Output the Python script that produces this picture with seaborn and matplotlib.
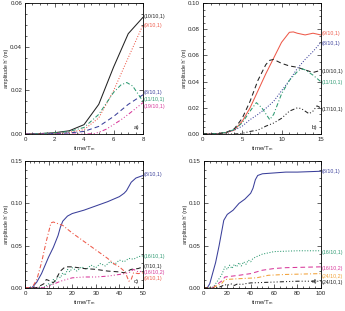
import matplotlib
matplotlib.use("Agg")
import matplotlib.pyplot as plt
import matplotlib.transforms as mtransforms
from matplotlib.ticker import MultipleLocator, FormatStrFormatter
import numpy as np
import pandas as pd
import seaborn as sns

# ---- panel a) ----
ta = [0, 1, 2, 3, 4, 5, 6, 7, 8]
a_10_10_1 = [0.0, 0.0002, 0.0006, 0.0015, 0.0043, 0.0136, 0.0306, 0.046, 0.0535]
a_9_10_1 = [0.0, 0.0001, 0.0003, 0.0008, 0.002, 0.0074, 0.0198, 0.035, 0.050]
a_8_10_1 = [0.0, 0.0001, 0.0002, 0.0005, 0.0012, 0.0035, 0.008, 0.0136, 0.018]
ta_g = [0, 1, 2, 3, 4, 5, 6, 6.5, 6.9, 7.3, 8]
a_11_10_1 = [0.0, 0.0002, 0.0005, 0.0012, 0.003, 0.009, 0.019, 0.0225, 0.0236, 0.022, 0.015]
ta_m = [0, 4, 4.7, 5, 5.5, 6, 6.5, 7, 7.5, 8]
a_19_10_1 = [0.0, 0.0, 0.0002, 0.0008, 0.0022, 0.0043, 0.0065, 0.009, 0.0117, 0.0144]

# ---- panel b) ----
tb = [0, 1, 2, 3, 4, 5, 6, 7, 8, 9, 10, 11, 11.5, 12, 13, 14, 15]
b_9_10_1 = [0.0, 0.0001, 0.0004, 0.0012, 0.003, 0.0097, 0.020, 0.033, 0.046, 0.058,
            0.070, 0.0777, 0.078, 0.077, 0.0757, 0.077, 0.0757]
tb_k = [0, 1, 2, 3, 4, 5, 6, 7, 8, 8.5, 9, 10, 11, 12, 13, 14, 15]
b_10_10_1 = [0.0, 0.0001, 0.0004, 0.0014, 0.004, 0.012, 0.025, 0.041, 0.053, 0.0563,
             0.057, 0.054, 0.052, 0.051, 0.049, 0.047, 0.0487]
tb_b = [0, 1, 2, 3, 4, 5, 6, 7, 8, 9, 10, 11, 12, 13, 14, 15]
b_8_10_1 = [0.0, 0.0001, 0.0004, 0.0012, 0.003, 0.006, 0.011, 0.015, 0.0196, 0.025,
            0.033, 0.041, 0.050, 0.057, 0.063, 0.070]
tb_g = [0, 1, 2, 3, 4, 5, 6, 6.8, 7.5, 8.5, 9, 10, 11, 12, 12.5, 13, 14, 15]
b_11_10_1 = [0.0, 0.0001, 0.0004, 0.0013, 0.0035, 0.0085, 0.0175, 0.024, 0.020, 0.011,
             0.015, 0.0306, 0.041, 0.0476, 0.050, 0.049, 0.045, 0.040]
tb_d = [0, 4, 5, 6, 7, 8, 9, 10, 11, 12, 12.5, 13, 13.5, 14, 14.5, 15]
b_17_10_1 = [0.0, 0.0, 0.0005, 0.002, 0.003, 0.006, 0.0084, 0.012, 0.0175, 0.020,
             0.0195, 0.0175, 0.0155, 0.0175, 0.0215, 0.020]

# ---- panel c) ----
tc_b = [0, 3, 5, 7, 10, 12, 14, 15, 16, 18, 20, 25, 30, 35, 40, 42, 43, 45, 47, 50]
c_8_10_1 = [0.0, 0.0005, 0.007, 0.017, 0.0366, 0.048, 0.062, 0.072, 0.079, 0.085,
            0.088, 0.092, 0.097, 0.102, 0.108, 0.112, 0.115, 0.125, 0.130, 0.133]
tc_r = [0, 3, 5, 7, 9, 11, 12, 14, 16, 20, 25, 30, 35, 38, 40, 42, 43, 44, 45, 46, 48, 50]
c_9_10_1 = [0.0, 0.0005, 0.010, 0.030, 0.055, 0.077, 0.078, 0.076, 0.074, 0.065,
            0.055, 0.045, 0.035, 0.028, 0.025, 0.020, 0.015, 0.008, 0.010, 0.018,
            0.017, 0.018]
tc_k = [0, 5, 8, 9, 10, 11, 12, 13, 15, 17, 20, 25, 30, 35, 40, 42, 45, 48, 50]
c_7_10_1 = [0.0, 0.0005, 0.005, 0.010, 0.009, 0.007, 0.006, 0.010, 0.020, 0.025,
            0.025, 0.023, 0.022, 0.020, 0.019, 0.018, 0.022, 0.023, 0.025]
tc_g = [0, 8, 10, 11, 12, 13, 14, 15, 16, 17, 18, 19, 20, 22, 24, 26, 28, 30, 32, 34,
        36, 38, 40, 42, 44, 46, 48, 50]
c_16_10_1 = [0.0, 0.0005, 0.005, 0.004, 0.010, 0.008, 0.014, 0.012, 0.018, 0.015,
             0.022, 0.019, 0.024, 0.020, 0.025, 0.022, 0.027, 0.024, 0.029, 0.026,
             0.031, 0.028, 0.033, 0.031, 0.035, 0.034, 0.037, 0.038]
tc_m = [0, 8, 10, 15, 20, 25, 30, 35, 40, 44, 46, 48, 50]
c_16_10_2 = [0.0, 0.0003, 0.002, 0.008, 0.012, 0.013, 0.013, 0.014, 0.016, 0.018,
             0.022, 0.019, 0.020]

# ---- panel d) ----
td_b = [0, 3, 5, 10, 13, 15, 17, 20, 25, 30, 35, 40, 42, 44, 46, 50, 60, 70, 80, 100]
d_8_10_1 = [0.0, 0.0005, 0.005, 0.030, 0.050, 0.065, 0.080, 0.087, 0.092, 0.100,
            0.105, 0.112, 0.118, 0.128, 0.133, 0.135, 0.136, 0.137, 0.137, 0.138]
td_g = [0, 8, 10, 15, 18, 20, 22, 24, 26, 28, 30, 32, 34, 36, 38, 40, 42, 45, 50, 60, 80, 100]
d_16_10_1 = [0.0, 0.001, 0.005, 0.015, 0.025, 0.022, 0.027, 0.023, 0.028, 0.025,
             0.030, 0.026, 0.031, 0.028, 0.033, 0.031, 0.035, 0.037, 0.040, 0.043,
             0.044, 0.044]
td_m = [0, 8, 10, 15, 18, 30, 40, 50, 60, 70, 100]
d_16_10_2 = [0.0, 0.0005, 0.003, 0.008, 0.013, 0.015, 0.017, 0.021, 0.023, 0.024, 0.025]
td_o = [0, 8, 10, 15, 18, 30, 45, 55, 70, 100]
d_24_10_2 = [0.0, 0.0003, 0.002, 0.005, 0.010, 0.011, 0.012, 0.015, 0.016, 0.017]
td_k = [0, 12, 15, 18, 20, 23, 26, 29, 32, 35, 40, 60, 80, 100]
d_24_10_1 = [0.0, 0.0003, 0.002, 0.004, 0.003, 0.005, 0.003, 0.005, 0.004, 0.005,
             0.006, 0.007, 0.008, 0.008]

BLACK = "#222222"
RED = "#ee5a4a"
BLUE = "#3a3f9a"
GREEN = "#2e9a72"
MAGENTA = "#d8389a"
ORANGE = "#f2a23a"

SOLID = "-"
DOT = (0, (1, 1.6))
DASH = (0, (4.5, 3))
DASHDOT = (0, (4, 2, 1, 2))
DASHDOT3 = (0, (4, 2, 1, 2, 1, 2, 1, 2))

panels = [
    dict(letter="a)", xlim=(0, 8), ylim=(0, 0.06), xmaj=2, xmin=0.5, ymaj=0.02, ymin=0.005,
         curves=[
             (ta, a_10_10_1, BLACK, SOLID, "(10/10,1)", 0.0538),
             (ta, a_9_10_1, RED, DOT, "(9/10,1)", 0.0499),
             (ta, a_8_10_1, BLUE, DASH, "(8/10,1)", 0.0190),
             (ta_g, a_11_10_1, GREEN, DASHDOT, "(11/10,1)", 0.0159),
             (ta_m, a_19_10_1, MAGENTA, DASHDOT3, "(19/10,1)", 0.0128),
         ]),
    dict(letter="b)", xlim=(0, 15), ylim=(0, 0.10), xmaj=5, xmin=1, ymaj=0.02, ymin=0.005,
         curves=[
             (tb, b_9_10_1, RED, SOLID, "(9/10,1)", 0.0767),
             (tb_b, b_8_10_1, BLUE, DOT, "(8/10,1)", 0.0690),
             (tb_k, b_10_10_1, BLACK, DASH, "(10/10,1)", 0.0480),
             (tb_g, b_11_10_1, GREEN, DASHDOT, "(11/10,1)", 0.0395),
             (tb_d, b_17_10_1, BLACK, DASHDOT3, "(17/10,1)", 0.0190),
         ]),
    dict(letter="c)", xlim=(0, 50), ylim=(0, 0.15), xmaj=10, xmin=2, ymaj=0.05, ymin=0.01,
         curves=[
             (tc_b, c_8_10_1, BLUE, SOLID, "(8/10,1)", 0.134),
             (tc_g, c_16_10_1, GREEN, DOT, "(16/10,1)", 0.0378),
             (tc_k, c_7_10_1, BLACK, DASH, "(7/10,1)", 0.0256),
             (tc_m, c_16_10_2, MAGENTA, DASHDOT3, "(16/10,2)", 0.0185),
             (tc_r, c_9_10_1, RED, DASHDOT, "(9/10,1)", 0.0114),
         ]),
    dict(letter="d)", xlim=(0, 100), ylim=(0, 0.15), xmaj=20, xmin=5, ymaj=0.05, ymin=0.01,
         curves=[
             (td_b, d_8_10_1, BLUE, SOLID, "(8/10,1)", 0.138),
             (td_g, d_16_10_1, GREEN, DOT, "(16/10,1)", 0.0417),
             (td_m, d_16_10_2, MAGENTA, DASH, "(16/10,2)", 0.0232),
             (td_o, d_24_10_2, ORANGE, DASHDOT, "(24/10,2)", 0.0138),
             (td_k, d_24_10_1, BLACK, DASHDOT3, "(24/10,1)", 0.0063),
         ]),
]

sns.set_style("ticks")
plt.rcParams["font.family"] = ["Liberation Sans", "DejaVu Sans"]
plt.rcParams["font.size"] = 4.2
plt.rcParams["mathtext.fontset"] = "custom"
plt.rcParams["mathtext.rm"] = "Liberation Sans"
plt.rcParams["mathtext.it"] = "Liberation Sans"

fig = plt.figure(figsize=(3.45, 3.11), dpi=100)
rects = [
    [0.0725, 0.569, 0.342, 0.421],
    [0.588, 0.569, 0.342, 0.421],
    [0.0725, 0.074, 0.342, 0.408],
    [0.591, 0.074, 0.339, 0.408],
]

for rect, p in zip(rects, panels):
    ax = fig.add_axes(rect)
    for x, y, col, ls, lab, ly in p["curves"]:
        df = pd.DataFrame({"t": x, "h": y})
        sns.lineplot(data=df, x="t", y="h", ax=ax, color=col, linestyle=ls,
                     linewidth=0.75, sort=False, estimator=None)
        trans = mtransforms.blended_transform_factory(ax.transAxes, ax.transData)
        ax.text(1.008, ly, lab, transform=trans, color=col, fontsize=3.8,
                va="center", ha="left", clip_on=False)
    ax.set_xlim(*p["xlim"])
    ax.set_ylim(*p["ylim"])
    ax.xaxis.set_major_locator(MultipleLocator(p["xmaj"]))
    ax.xaxis.set_minor_locator(MultipleLocator(p["xmin"]))
    ax.yaxis.set_major_locator(MultipleLocator(p["ymaj"]))
    ax.yaxis.set_minor_locator(MultipleLocator(p["ymin"]))
    ax.yaxis.set_major_formatter(FormatStrFormatter("%.2f"))
    ax.tick_params(which="both", direction="in", top=True, right=True,
                   labelsize=4.4, width=0.5, pad=2)
    ax.tick_params(which="major", length=3)
    ax.tick_params(which="minor", length=1.5)
    for s in ax.spines.values():
        s.set_linewidth(0.6)
        s.set_color("black")
    ax.set_xlabel("time/T$_m$", fontsize=4.4, labelpad=1.5)
    ax.set_ylabel("amplitude h' (m)", fontsize=4.0)
    ax.yaxis.set_label_coords(-0.135, 0.5)
    ax.text(0.97, 0.03, p["letter"], transform=ax.transAxes, fontsize=4.6,
            ha="right", va="bottom")

fig.savefig("out.png", dpi=100)
